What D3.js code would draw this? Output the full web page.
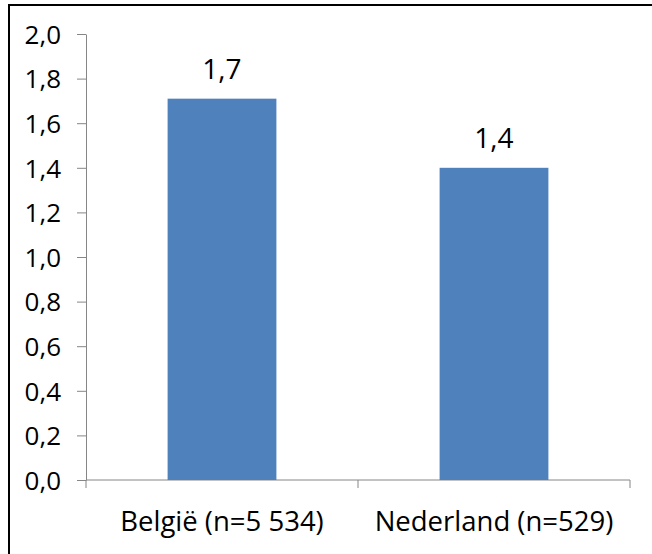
<!DOCTYPE html>
<html>
<head>
<meta charset="utf-8">
<script src="https://cdn.jsdelivr.net/npm/d3@7"></script>
<style>
html,body{margin:0;padding:0;background:#fff;}
svg{display:block;}
text{font-family:"Open Sans", sans-serif;fill:#000;}
</style>
</head>
<body>
<script>
const categories = ["België (n=5 534)", "Nederland (n=529)"];
const values = [1.71, 1.40];
const valueLabels = ["1,7", "1,4"];
const yTicks = [0, 0.2, 0.4, 0.6, 0.8, 1.0, 1.2, 1.4, 1.6, 1.8, 2.0];

(function(){
const W = 652, H = 554;
const FONT = '"Open Sans", sans-serif';
const svg = d3.select("body").append("svg").attr("width", W).attr("height", H);

// outer chart border
svg.append("rect").attr("x", 9).attr("y", 5).attr("width", 660).attr("height", 570)
  .attr("fill", "none").attr("stroke", "#000").attr("stroke-width", 2);

const mLeft = 86, mRight = 630, mTop = 34, mBottom = 480;
const x = d3.scaleBand().domain(categories).range([mLeft, mRight]).paddingInner(0.6).paddingOuter(0.3);
const y = d3.scaleLinear().domain([0, 2]).range([mBottom, mTop]);
const fmt = v => d3.format(".1f")(v).replace(".", ",");

// y axis
const yAxis = svg.append("g").attr("transform", `translate(${mLeft},0)`)
  .call(d3.axisLeft(y).tickValues(yTicks).tickFormat(fmt).tickSize(9).tickSizeOuter(0).tickPadding(16));
yAxis.attr("font-family", FONT);
yAxis.select(".domain").attr("stroke", "#868686");
yAxis.selectAll(".tick line").attr("stroke", "#868686");
yAxis.selectAll(".tick text").attr("font-size", 26).attr("dy", "0.36em").attr("fill", "#000");

// x axis line with boundary ticks
const bounds = [mLeft, (mLeft + mRight) / 2, mRight];
svg.append("line").attr("x1", mLeft).attr("x2", mRight).attr("y1", mBottom).attr("y2", mBottom)
  .attr("stroke", "#868686").attr("stroke-width", 1);
svg.selectAll("line.xt").data(bounds).join("line").attr("class", "xt")
  .attr("x1", d => d).attr("x2", d => d).attr("y1", mBottom).attr("y2", mBottom + 8)
  .attr("stroke", "#868686");

// bars
svg.selectAll("rect.bar").data(values).join("rect").attr("class", "bar")
  .attr("x", (d, i) => x(categories[i]))
  .attr("width", x.bandwidth())
  .attr("y", d => y(d))
  .attr("height", d => y(0) - y(d))
  .attr("fill", "#4F81BD");

// value labels
svg.selectAll("text.vl").data(values).join("text").attr("class", "vl")
  .attr("x", (d, i) => x(categories[i]) + x.bandwidth() / 2)
  .attr("y", d => y(d) - 20)
  .attr("text-anchor", "middle").attr("font-size", 28)
  .text((d, i) => valueLabels[i]);

// category labels
svg.selectAll("text.cl").data(categories).join("text").attr("class", "cl")
  .attr("x", d => x(d) + x.bandwidth() / 2)
  .attr("y", 531)
  .attr("text-anchor", "middle").attr("font-size", 27.5)
  .text(d => d);
})();
</script>
</body>
</html>
